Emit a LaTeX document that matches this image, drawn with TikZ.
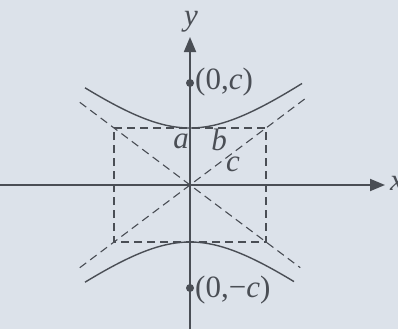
\documentclass[tikz,border=0pt]{standalone}
\usepackage{fontspec}
\setmainfont{Liberation Serif}
\usetikzlibrary{arrows.meta,calc}
\definecolor{bg}{HTML}{DCE2EA}
\definecolor{ink}{HTML}{4A4E55}
\tikzset{
  axis/.style={draw=ink, line width=1.8pt, -{Triangle[length=15pt,width=12pt]}},
  dashline/.style={draw=ink, line width=1.1pt, dash pattern=on 8pt off 5pt},
  curve/.style={draw=ink, line width=1.4pt},
  lbl/.style={text=ink, font=\fontsize{31}{34}\selectfont, inner sep=0pt},
  dot/.style={circle, fill=ink, inner sep=0pt, minimum size=8pt}
}
\begin{document}
\begin{tikzpicture}[x=1pt,y=-1pt]
\useasboundingbox[fill=bg] (0,0) rectangle (398,329);
\coordinate (O) at (190,185);
\coordinate (xs) at (0,185);
\coordinate (xe) at (385,185);
\coordinate (ys) at (190,329);
\coordinate (ye) at (190,37);
% box corners
\coordinate (tl) at (114,128);
\coordinate (tr) at (266,128);
\coordinate (bl) at (114,242);
\coordinate (br) at (266,242);
% asymptote ends
\coordinate (a1) at ($(O)!1.45!(tl)$);
\coordinate (a2) at ($(O)!1.45!(br)$);
\coordinate (a3) at ($(O)!1.52!(tr)$);
\coordinate (a4) at ($(O)!1.45!(bl)$);
\draw[dashline] (tl) -- (tr) -- (br) -- (bl) -- cycle;
\draw[dashline] (a1) -- (a2);
\draw[dashline] (a4) -- (a3);
\draw[curve] plot[domain=-105:112, samples=80] ({190+\x},{185-57*sqrt(1+(\x/76)^2)});
\draw[curve] plot[domain=-105:104, samples=80] ({190+\x},{185+57*sqrt(1+(\x/76)^2)});
\draw[axis] (xs) -- (xe);
\draw[axis] (ys) -- (ye);
\node[dot] (fc) at (190,83) {};
\node[dot] (fm) at (190,288) {};
\node[lbl, anchor=west] (lc) at (195,82) {(0,\textit{c})};
\node[lbl, anchor=west] (lm) at (195,290) {(0,−\textit{c})};
\node[lbl] (ly) at (191,22) {\textit{y}};
\node[lbl, anchor=west] (lx) at (390,183) {\textit{x}};
\node[lbl] (la) at (181,141) {\textit{a}};
\node[lbl] (lb) at (219,140) {\textit{b}};
\node[lbl] (lcc) at (233,164) {\textit{c}};
\end{tikzpicture}
\end{document}
